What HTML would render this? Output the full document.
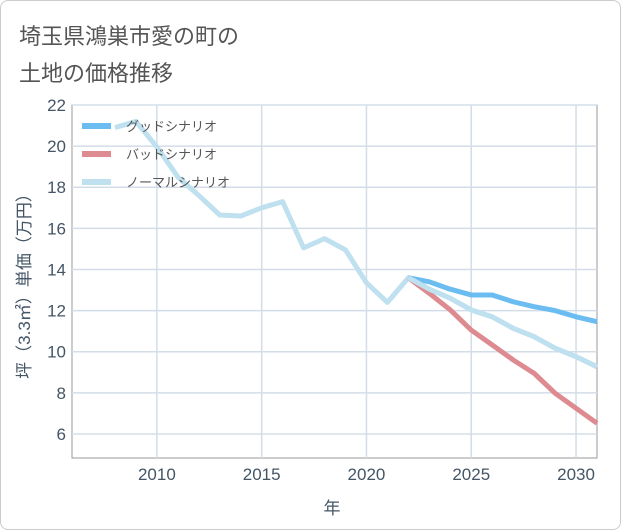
<!DOCTYPE html>
<html><head><meta charset="utf-8"><style>
body{margin:0;background:#fff;font-family:"Liberation Sans","Noto Sans CJK JP",sans-serif;}
#card{position:absolute;left:0;top:0;width:619px;height:528px;border:1px solid #ccc;border-radius:8px;background:#fff;}
.t{position:absolute;left:18px;font-size:22px;color:#555;}
</style></head><body>
<div id="card">
<div class="t" style="top:18px">埼玉県鴻巣市愛の町の</div>
<div class="t" style="top:55px">土地の価格推移</div>
</div>
<svg id="ch" width="621" height="530" style="position:absolute;left:0;top:0"></svg>
<script>
const years=[2008,2009,2010,2011,2012,2013,2014,2015,2016,2017,2018,2019,2020,2021,2022,2023,2024,2025,2026,2027,2028,2029,2030,2031];
const normalVals=[20.9,21.2,19.96,18.5,17.6,16.65,16.6,17.0,17.3,15.05,15.5,14.95,13.35,12.4,13.6,13.04,12.6,12.03,11.7,11.14,10.73,10.17,9.76,9.27];
const futureYears=[2022,2023,2024,2025,2026,2027,2028,2029,2030,2031];
const goodVals=[13.6,13.4,13.04,12.76,12.76,12.43,12.19,12.0,11.7,11.46];
const badVals=[13.6,12.84,12.03,11.05,10.33,9.6,8.95,7.98,7.25,6.52];
const yTicks=[6,8,10,12,14,16,18,20,22];
const xTicks=[2010,2015,2020,2025,2030];
const L=72,R=597,T=105,B=458,x0=2005.95,x1=2031,y0=4.83,y1=22;
const X=v=>L+(v-x0)/(x1-x0)*(R-L);
const Y=v=>B-(v-y0)/(y1-y0)*(B-T);
const svg=document.getElementById('ch');const NS='http://www.w3.org/2000/svg';
function mk(t,a,p){const e=document.createElementNS(NS,t);for(const k in a)e.setAttribute(k,a[k]);(p||svg).appendChild(e);return e;}
mk('rect',{x:L,y:T,width:R-L,height:B-T,fill:'#fff',stroke:'#999'});
yTicks.forEach(v=>{const l=mk('line',{x1:L,x2:R,y1:Y(v),y2:Y(v),stroke:'#d3dde8','stroke-width':1.5});

const t=mk('text',{x:L-6,y:Y(v)+6,'text-anchor':'end','font-size':17,fill:'#445566'});t.textContent=v;
});
xTicks.forEach(v=>{const l=mk('line',{x1:X(v),x2:X(v),y1:T,y2:B,stroke:'#d3dde8','stroke-width':1.5});

const t=mk('text',{x:X(v),y:B+22,'text-anchor':'middle','font-size':17,fill:'#445566'});t.textContent=v;
});
function line(xs,vs,c,n){const p=mk('polyline',{points:xs.map((x,i)=>X(x)+','+Y(vs[i])).join(' '),fill:'none',stroke:c,'stroke-width':5,'stroke-linejoin':'round'});
}
const cp=mk('clipPath',{id:'cp'});mk('rect',{x:L,y:T,width:R-L,height:B-T},cp);
line(years,normalVals,'#bfe0ef','normal-scenario-line');
line(futureYears,badVals,'#dd8a90','bad-scenario-line');
line(futureYears,goodVals,'#6bbcf0','good-scenario-line');
line(futureYears,normalVals.slice(14),'#bfe0ef','normal-scenario-line-future');
const leg=[['グッドシナリオ','#6bbcf0'],['バッドシナリオ','#dd8a90'],['ノーマルシナリオ','#bfe0ef']];
leg.forEach((d,i)=>{const y=126+i*28;const g=mk('g',{});
mk('line',{x1:82,x2:111,y1:y,y2:y,stroke:d[1],'stroke-width':6},g);
const t=mk('text',{x:126,y:y+5,'font-size':13,fill:'#555'},g);t.textContent=d[0];});
const yl=mk('text',{x:0,y:0,transform:'translate(30,282) rotate(-90)','text-anchor':'middle','font-size':17,fill:'#445566'});yl.textContent='坪（3.3㎡）単価（万円）';

const xl=mk('text',{x:332,y:514,'text-anchor':'middle','font-size':17,fill:'#445566'});xl.textContent='年';

</script>
</body></html>
